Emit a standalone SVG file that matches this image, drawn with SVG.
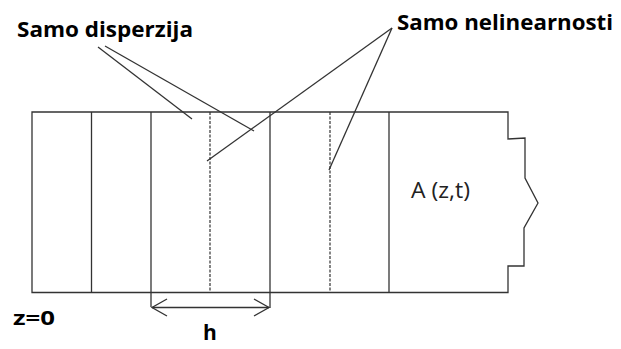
<svg xmlns="http://www.w3.org/2000/svg" width="621" height="349" viewBox="0 0 621 349">
<style>
.ln{stroke:#333;stroke-width:1.3;fill:none;stroke-linejoin:miter}
.ds{stroke:#333;stroke-width:1.2;fill:none;stroke-dasharray:3,1.5}
.lb{font-family:"Open Sans","DejaVu Sans",sans-serif;font-weight:bold;fill:#000}
.tx{font-family:"Open Sans","DejaVu Sans",sans-serif;fill:#222}
</style>
<rect width="621" height="349" fill="#fff"/>
<g id="fiber">
<path class="ln" d="M32,112 H508 V139 L525,138 V178 L538,203 L524,228 V266 H508 V292.5 H32 Z"/>
<line class="ln" x1="91.5" y1="112" x2="91.5" y2="292.5"/>
<line class="ln" x1="151" y1="112" x2="151" y2="307"/>
<line class="ln" x1="270" y1="112" x2="270" y2="308"/>
<line class="ln" x1="389" y1="112" x2="389" y2="292.5"/>
<line class="ds" x1="210" y1="112" x2="210" y2="292.5"/>
<line class="ds" x1="330" y1="112" x2="330" y2="292.5"/>
</g>
<g id="label-disperzija">
<text class="lb" x="17" y="37" font-size="22" textLength="176" lengthAdjust="spacingAndGlyphs">Samo disperzija</text>
</g>
<g id="label-nelinearnosti">
<text class="lb" x="397" y="30" font-size="22" textLength="216" lengthAdjust="spacingAndGlyphs">Samo nelinearnosti</text>
</g>
<g id="label-A">
<text class="tx" x="411" y="198" font-size="21" textLength="59" lengthAdjust="spacingAndGlyphs">A (z,t)</text>
</g>
<g id="label-z0">
<text class="lb" x="13" y="325" font-size="19" textLength="42" lengthAdjust="spacingAndGlyphs">z=0</text>
</g>
<g id="label-h">
<text class="lb" x="203" y="340" font-size="21">h</text>
</g>
<g id="connectors">
<line class="ln" x1="98" y1="47" x2="192" y2="119"/>
<line class="ln" x1="105" y1="46" x2="254" y2="131"/>
<line class="ln" x1="392" y1="28" x2="207" y2="161"/>
<line class="ln" x1="392" y1="28" x2="329" y2="170"/>
<line class="ln" x1="152" y1="307.5" x2="269" y2="307.5"/>
<polyline class="ln" points="167,299 152,307.5 167,316"/>
<polyline class="ln" points="254,299 269,307.5 254,316"/>
</g>
</svg>
